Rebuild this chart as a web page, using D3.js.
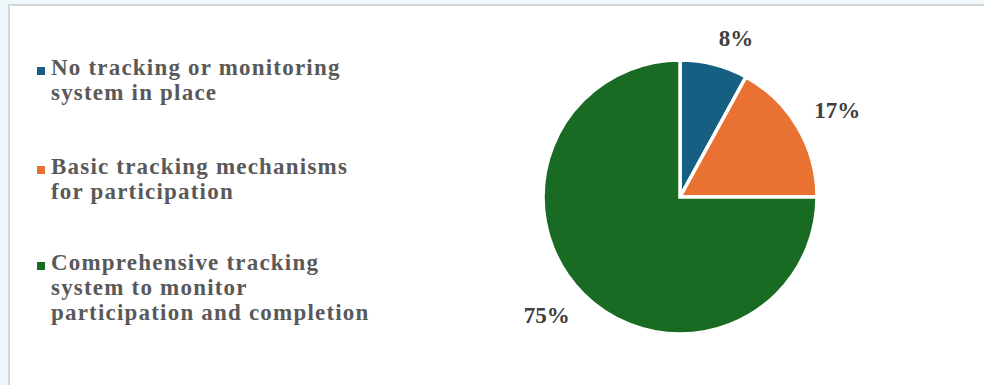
<!DOCTYPE html>
<html>
<head>
<meta charset="utf-8">
<script src="https://cdn.jsdelivr.net/npm/d3@7"></script>
<style>
  html, body { margin: 0; padding: 0; background: #eef7fc; }
  svg { display: block; }
</style>
</head>
<body>
<svg id="chart" width="984" height="385"></svg>
<script>
// Tracking systems in place
const categories = [
  ["No tracking or monitoring", "system in place"],
  ["Basic tracking mechanisms", "for participation"],
  ["Comprehensive tracking", "system to monitor", "participation and completion"]
];
const values = [8, 17, 75];
const valueLabels = ["8%", "17%", "75%"];
const colors = ["#156082", "#E97132", "#196B24"];

const W = 984, H = 385;
const svg = d3.select("#chart");

// panel
svg.append("rect").attr("x", 0).attr("y", 0).attr("width", W).attr("height", H).attr("fill", "#eef7fc");
svg.append("rect").attr("x", 9).attr("y", 5).attr("width", W).attr("height", H)
  .attr("fill", "#ffffff").attr("stroke", "#d6d6d6").attr("stroke-width", 2);

// pie
const cx = 680, cy = 197, r = 137;
const pie = d3.pie().sort(null).value(d => d)(values);
const arc = d3.arc().innerRadius(0).outerRadius(r);
const g = svg.append("g").attr("transform", `translate(${cx},${cy})`);

g.selectAll("path").data(pie).join("path")
  .attr("d", arc)
  .attr("fill", (d, i) => colors[i])
  .attr("stroke", "#ffffff")
  .attr("stroke-width", 3.5)
  .attr("stroke-linejoin", "miter");

// outside-end labels: the corner of each label nearest the pie sits on a ring
const labelR = 156;
const labelFont = 23, digitH = 16;
g.selectAll("text.val").data(pie).join("text")
  .attr("class", "val")
  .each(function(d, i) {
    const a = (d.startAngle + d.endAngle) / 2;
    const px = Math.sin(a) * labelR, py = -Math.cos(a) * labelR;
    d3.select(this)
      .attr("x", px)
      .attr("y", Math.cos(a) > 0 ? py : py + digitH)
      .attr("text-anchor", Math.sin(a) >= 0 ? "start" : "end")
      .text(valueLabels[i]);
  })
  .attr("font-family", "'Liberation Serif', 'Times New Roman', serif")
  .attr("font-weight", "bold")
  .attr("font-size", labelFont)
  .attr("fill", "#404040");

// legend
const legendX = 37, textX = 51;
const lineH = 25;
const itemTops = [75, 174, 270];
const legend = svg.append("g");
categories.forEach((lines, i) => {
  const base = itemTops[i];
  legend.append("rect")
    .attr("x", legendX).attr("y", base - 8).attr("width", 8).attr("height", 8)
    .attr("fill", colors[i]);
  const t = legend.append("text")
    .attr("font-family", "'Liberation Serif', 'Times New Roman', serif")
    .attr("font-weight", "bold")
    .attr("font-size", 23)
    .attr("letter-spacing", "1.2px")
    .attr("fill", "#595959");
  lines.forEach((s, j) => {
    t.append("tspan").attr("x", textX).attr("y", base + j * lineH).text(s);
  });
});
</script>
</body>
</html>
